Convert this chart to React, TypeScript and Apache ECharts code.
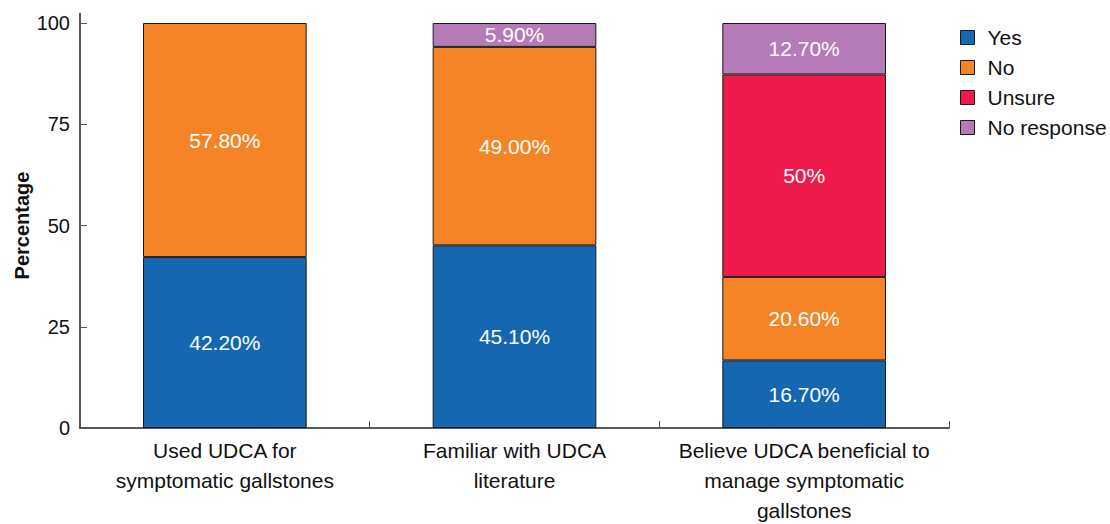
import React, { useEffect, useRef } from "react";
import * as echarts from "echarts";

const categories = [
  "Used UDCA for\nsymptomatic gallstones",
  "Familiar with UDCA\nliterature",
  "Believe UDCA beneficial to\nmanage symptomatic\ngallstones",
];
const seriesNames = ["Yes", "No", "Unsure", "No response"];
const yesValues = [42.2, 45.1, 16.7];
const noValues = [57.8, 49.0, 20.6];
const unsureValues = [0, 0, 50];
const noResponseValues = [0, 5.9, 12.7];
const yesLabels = ["42.20%", "45.10%", "16.70%"];
const noLabels = ["57.80%", "49.00%", "20.60%"];
const unsureLabels = ["", "", "50%"];
const noResponseLabels = ["", "5.90%", "12.70%"];
const yTicks = [0, 25, 50, 75, 100];

const colors = ["#1667b2", "#f58426", "#ef1a4b", "#b57bb8"];
const FONT = "Liberation Sans, Arial, sans-serif";

export default function App() {
  const ref = useRef<HTMLDivElement>(null);
  useEffect(() => {
    document.body.style.margin = "0";
    if (!ref.current) return;
    const chart = echarts.init(ref.current, undefined, { renderer: "svg" });
    const values = [yesValues, noValues, unsureValues, noResponseValues];
    const labels = [yesLabels, noLabels, unsureLabels, noResponseLabels];
    const series = seriesNames.map((name, i) => ({
      name,
      type: "bar" as const,
      stack: "total",
      barWidth: "56.5%",
      data: values[i].map((v) => (v === 0 ? null : v)),
      itemStyle: { color: colors[i], borderColor: "#1a1a1a", borderWidth: 1 },
      label: {
        show: true,
        position: "inside" as const,
        color: "#ffffff",
        fontSize: 21,
        fontFamily: FONT,
        formatter: (p: any) => labels[i][p.dataIndex],
      },
    }));
    chart.setOption({
      animation: false,
      backgroundColor: "#ffffff",
      textStyle: { fontFamily: FONT },
      grid: {
        left: 80,
        right: 161,
        top: 23,
        bottom: 96,
        containLabel: false,
        outerBoundsMode: "none",
      },
      legend: {
        orient: "vertical",
        left: 955,
        top: 22,
        itemWidth: 14,
        itemHeight: 14,
        itemGap: 9,
        icon: "rect",
        data: seriesNames,
        itemStyle: { borderColor: "#1a1a1a", borderWidth: 1 },
        textStyle: { fontSize: 21, color: "#111", fontFamily: FONT, padding: [0, 0, 0, 8] },
      },
      xAxis: {
        type: "category",
        data: categories,
        axisLine: { lineStyle: { color: "#222", width: 1.5 } },
        axisTick: { show: true, inside: true, length: 7, lineStyle: { color: "#555" } },
        axisLabel: {
          color: "#111",
          fontSize: 21,
          fontFamily: FONT,
          margin: 7,
          lineHeight: 30,
          interval: 0,
        },
      },
      yAxis: {
        type: "value",
        min: 0,
        max: 100,
        interval: 25,
        name: "Percentage",
        nameLocation: "middle",
        nameGap: 48,
        nameMoveOverlap: false,
        nameTextStyle: { fontSize: 20, fontWeight: "bold", color: "#111", fontFamily: FONT },
        axisLine: { show: true, lineStyle: { color: "#222", width: 1.5 } },
        axisTick: { show: true, inside: true, length: 7, lineStyle: { color: "#555" } },
        axisLabel: {
          color: "#111",
          fontSize: 20,
          fontFamily: FONT,
          margin: 10,
          formatter: (v: number) => (yTicks.includes(v) ? String(v) : ""),
        },
        splitLine: { show: false },
      },
      graphic: [
        {
          type: "line",
          shape: { x1: 80, y1: 13, x2: 80, y2: 23 },
          style: { stroke: "#222", lineWidth: 1.5 },
        },
      ],
      series,
    });
    return () => chart.dispose();
  }, []);
  return <div ref={ref} style={{ width: 1110, height: 524 }} />;
}
